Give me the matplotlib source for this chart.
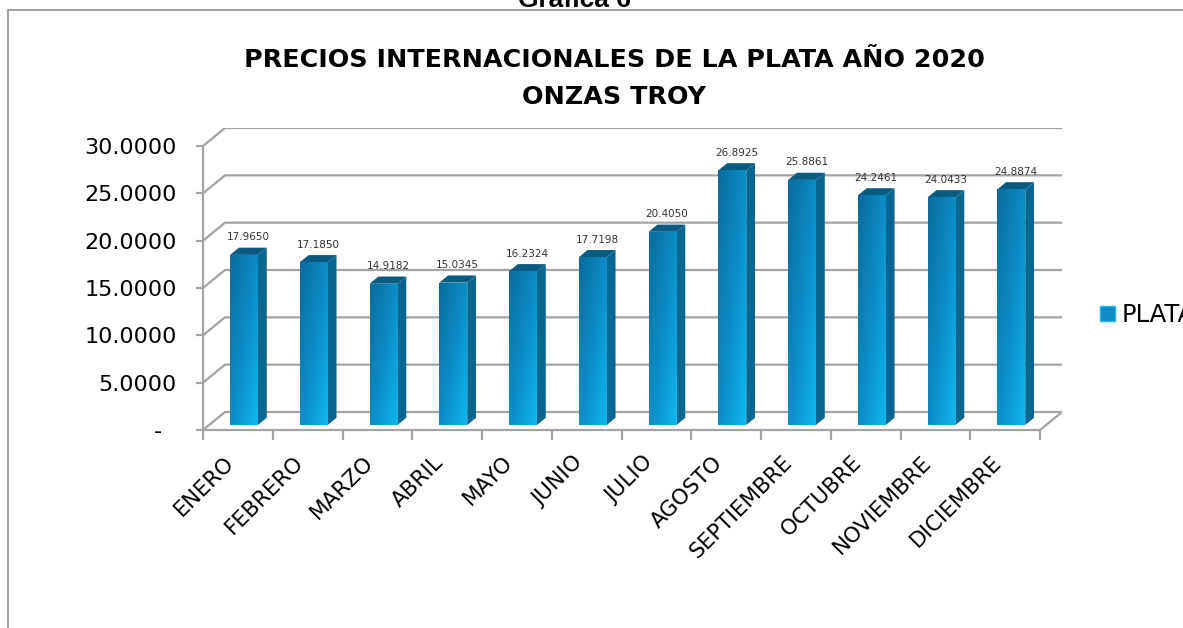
import numpy as np
import matplotlib.pyplot as plt
from matplotlib.patches import Polygon, Rectangle, Patch
from matplotlib.lines import Line2D
from matplotlib.colors import LinearSegmentedColormap

# datos
meses = ['ENERO', 'FEBRERO', 'MARZO', 'ABRIL', 'MAYO', 'JUNIO', 'JULIO',
         'AGOSTO', 'SEPTIEMBRE', 'OCTUBRE', 'NOVIEMBRE', 'DICIEMBRE']
precios = [17.9650, 17.1850, 14.9182, 15.0345, 16.2324, 17.7198, 20.4050,
           26.8925, 25.8861, 24.2461, 24.0433, 24.8874]
yticks = [0, 5, 10, 15, 20, 25, 30]
ytick_labels = ['-  ', '5.0000', '10.0000', '15.0000', '20.0000', '25.0000', '30.0000']
serie = 'PLATA'

W, H = 1183, 628
fig = plt.figure(figsize=(W / 100, H / 100), dpi=100)
plt.rcParams['font.family'] = ['DejaVu Sans']

# profundidad (pared del fondo) en unidades de datos
DX, DY = 0.315, 1.90
n = len(meses)

# ejes: plano frontal de x=0..12, y=0..30
left_px, right_px, bot_px, top_px = 203, 1062, 430, 128
ax = fig.add_axes([left_px / W, 1 - bot_px / H, (right_px - left_px) / W, (bot_px - top_px) / H])
ax.patch.set_alpha(0)

gris = '#a3a3a3'
for s in ['top', 'right']:
    ax.spines[s].set_visible(False)
ax.spines['left'].set_bounds(0, yticks[-1])
ax.spines['bottom'].set_bounds(0, n)
for s in ['left', 'bottom']:
    ax.spines[s].set_color(gris)
    ax.spines[s].set_linewidth(1.6)

# lineas de division (pared y piso)
for yt in yticks:
    ax.add_line(Line2D([0, DX, n + DX], [yt, yt + DY, yt + DY], color=gris, lw=1.6, zorder=1))
ax.add_line(Line2D([n, n + DX], [0, DY], color=gris, lw=1.6, zorder=1))

# barras pseudo 3D
frac = 0.28
bw = 0.40
bdx, bdy = 0.4 * DX, 0.4 * DY
x = np.arange(n) + 0.5 + frac * DX
y0 = frac * DY
bars = ax.bar(x, precios, width=bw, bottom=y0, color='#0b8fc8', zorder=3, linewidth=0)

cmap = LinearSegmentedColormap.from_list('azul', ['#0a6a9c', '#0b8cc6', '#12b6ee'])
gx, gy = np.meshgrid(np.linspace(0, 1, 40), np.linspace(0, 1, 200))
grad = 0.5 * gx + 0.5 * gy
for b, v in zip(bars, precios):
    x0, x1 = b.get_x(), b.get_x() + b.get_width()
    top = y0 + v
    im = ax.imshow(grad, extent=(x0, x1, y0, top), origin='upper', cmap=cmap,
                   aspect='auto', zorder=3.1, interpolation='bilinear')
    im.set_clip_path(b)
    ax.add_patch(Polygon([(x1, y0), (x1 + bdx, y0 + bdy), (x1 + bdx, top + bdy), (x1, top)],
                         closed=True, facecolor='#086690', edgecolor='none', zorder=3))
    ax.add_patch(Polygon([(x0, top), (x1, top), (x1 + bdx, top + bdy), (x0 + bdx, top + bdy)],
                         closed=True, facecolor='#0a5b82', edgecolor='none', zorder=3))
    ax.text((x0 + x1) / 2 + bdx / 2, top + bdy + 0.55, f'{v:.4f}', ha='center', va='bottom',
            fontsize=7.5, color='#333333', zorder=4)

ax.set_xlim(0, n + DX)
ax.set_ylim(0, yticks[-1] + DY)

ax.set_yticks(yticks)
ax.set_yticklabels(ytick_labels)
ax.tick_params(axis='y', length=5, width=1.6, color=gris, labelsize=16, pad=14)
ax.set_xticks(np.arange(n + 1))
ax.set_xticklabels([])
ax.tick_params(axis='x', which='major', length=7, width=1.6, color=gris)
ax.set_xticks(np.arange(n) + 0.5, minor=True)
ax.set_xticklabels(meses, minor=True, rotation=45, ha='right', fontsize=15.5)
ax.tick_params(axis='x', which='minor', length=0, pad=16)

# titulo
fig.text(614 / W, 1 - 60 / H, 'PRECIOS INTERNACIONALES DE LA PLATA AÑO 2020',
         ha='center', va='center', fontsize=18.3, fontweight='bold')
fig.text(614 / W, 1 - 97 / H, 'ONZAS TROY', ha='center', va='center', fontsize=18.3, fontweight='bold')
fig.text(574 / W, 1 - 7 / H, 'Gráfica 6', ha='center', va='baseline', fontsize=19,
         fontweight='bold', family='Liberation Sans')

# marco
fig.add_artist(Rectangle((8 / W, -0.1), 1.2, 1.1 - 10 / H, transform=fig.transFigure,
                         fill=False, edgecolor='#8f8f8f', lw=1.2))

# leyenda
fig.legend(handles=[Patch(facecolor='#0b8ac4', edgecolor='#13b8ee')], labels=[serie],
           loc='center left', bbox_to_anchor=(1088 / W, 1 - 315 / H), frameon=False,
           fontsize=17.5, handlelength=0.6, handleheight=0.6, handletextpad=0.3, borderpad=0)

fig.savefig('out.png', dpi=100)
